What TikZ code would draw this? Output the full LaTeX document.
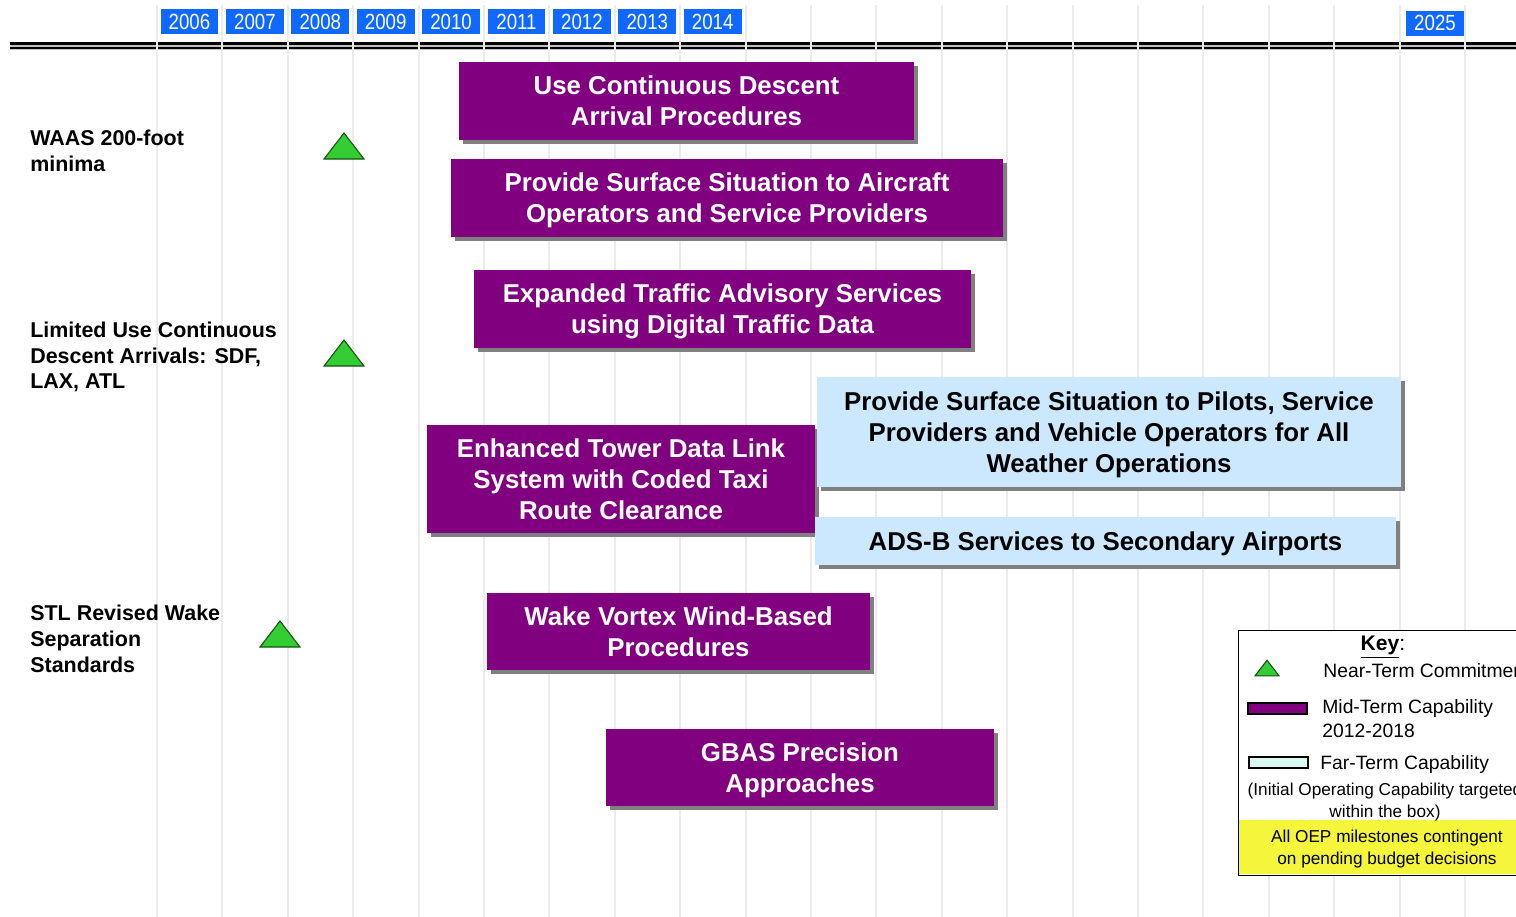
\documentclass[tikz,border=0pt]{standalone}
\usepackage{fontspec}
\setmainfont{Liberation Sans}
\newfontfamily\yearfont[FakeStretch=0.85]{Liberation Sans}
\usetikzlibrary{shadows}
\definecolor{OEPPurple}{HTML}{800080}
\definecolor{OEPSky}{HTML}{CCE8FF}
\definecolor{OEPBlue}{HTML}{0F68FF}
\definecolor{OEPGreen}{HTML}{33CC33}
\definecolor{OEPMint}{HTML}{D9FAF2}
\definecolor{OEPYellow}{HTML}{F5F53C}
\definecolor{OEPGrid}{HTML}{EBEBEB}
\definecolor{OEPShadow}{HTML}{808080}

\begin{document}
\begin{tikzpicture}[x=0.02cm,y=-0.02cm,
  gridline/.style={draw=OEPGrid,line width=1.1pt},
  yearbox/.style={fill=OEPBlue,text=white,minimum width=1.16cm,minimum height=0.5cm,
                  inner sep=0pt,font=\yearfont\fontsize{12.5}{12.5}\selectfont},
  task/.style={minimum height=1.56cm,align=center,inner sep=0pt,text depth=0pt,
               font=\bfseries\fontsize{14.7}{17.6}\selectfont,
               drop shadow={shadow xshift=0.08cm,shadow yshift=-0.08cm,fill=OEPShadow,opacity=1}},
  midterm/.style={task,fill=OEPPurple,text=white},
  farterm/.style={task,fill=OEPSky,text=black},
  commit/.style={anchor=west,align=left,inner sep=0pt,font=\bfseries\fontsize{12.2}{14.7}\selectfont},
  keytext/.style={anchor=west,align=left,inner sep=0pt,font=\fontsize{11}{13.6}\selectfont},
  note/.style={align=center,inner sep=0pt,font=\fontsize{9.8}{12}\selectfont},
  milestone/.pic={\draw[fill=OEPGreen,draw=black!60!OEPGreen,line width=0.6pt]
                  (-20,13) -- (20,13) -- (0,-13) -- cycle;}
]
\useasboundingbox (0,0) rectangle (1516,917);
\clip (0,0) rectangle (1516,917);

% timeline bar and year grid
\fill[OEPShadow!50] (10,42.5) rectangle (1516,49.5);
\draw[line width=1.2pt] (10,43.5) -- (1516,43.5);
\draw[line width=1.4pt] (10,48.2) -- (1516,48.2);
\foreach \k in {0,...,20}
  \draw[gridline] ({157+65.4*\k},5) -- ++(0,912);
\foreach \yr [count=\i from 0] in {2006,...,2014}
  \node[yearbox] (y\yr) at ({189.5+65.4*\i},21.5) {\yr};
\node[yearbox] (y2025) at (1435,23) {2025};

% near-term commitments
\node[commit] (waas) at (30,151) {WAAS 200-foot\\minima};
\pic at (344,146) {milestone};
\node[commit] (cdalim) at (30,357) {Limited Use Continuous\\Descent Arrivals: SDF,\\LAX, ATL};
\pic at (344,353) {milestone};
\node[commit] (stl) at (30,639) {STL Revised Wake\\Separation\\Standards};
\pic at (280,634) {milestone};

% capabilities
\node[midterm,minimum width=9.1cm] (cda) at (686.5,101) {Use Continuous Descent\\Arrival Procedures};
\node[midterm,minimum width=11.04cm] (surfops) at (727,198) {Provide Surface Situation to Aircraft\\Operators and Service Providers};
\node[midterm,minimum width=9.94cm] (traffic) at (722.5,309) {Expanded Traffic Advisory Services\\using Digital Traffic Data};
\node[midterm,minimum width=7.76cm,minimum height=2.16cm] (tower) at (621,479) {Enhanced Tower Data Link\\System with Coded Taxi\\Route Clearance};
\node[farterm,minimum width=11.68cm,minimum height=2.2cm] (allwx) at (1109,432) {Provide Surface Situation to Pilots, Service\\Providers and Vehicle Operators for All\\Weather Operations};
\node[farterm,minimum width=11.62cm,minimum height=0.96cm] (adsb) at (1105.5,541) {ADS-B Services to Secondary Airports};
\node[midterm,minimum width=7.66cm,minimum height=1.54cm] (wake) at (678.5,631.5) {Wake Vortex Wind-Based\\Procedures};
\node[midterm,minimum width=7.76cm,minimum height=1.54cm] (gbas) at (800,767.5) {GBAS Precision\\Approaches};

% key
\node[draw,line width=0.8pt,fill=white,anchor=north west,minimum width=6.04cm,minimum height=4.9cm] (key) at (1238,630) {};
\fill[OEPYellow] (1239,820) rectangle (1540,874);
\node[inner sep=0pt,font=\fontsize{12}{12}\selectfont] (keyhead) at (1383,647) {\textbf{\underline{Key}}:};
\pic[scale=0.6] at (1267,668) {milestone};
\node[keytext] (near) at (1323,671) {Near-Term Commitment};
\draw[fill=OEPPurple,line width=0.6pt] (1248,703) rectangle (1307,714);
\node[keytext] (mid) at (1322,719) {Mid-Term Capability\\2012-2018};
\draw[fill=OEPMint,line width=0.6pt] (1249,757) rectangle (1308,768);
\node[keytext] (far) at (1320,764) {Far-Term Capability};
\node[note] (ioc) at (1385,802) {(Initial Operating Capability targeted\\within the box)};
\node[note] (budget) at (1387,849) {All OEP milestones contingent\\on pending budget decisions};
\end{tikzpicture}
\end{document}
